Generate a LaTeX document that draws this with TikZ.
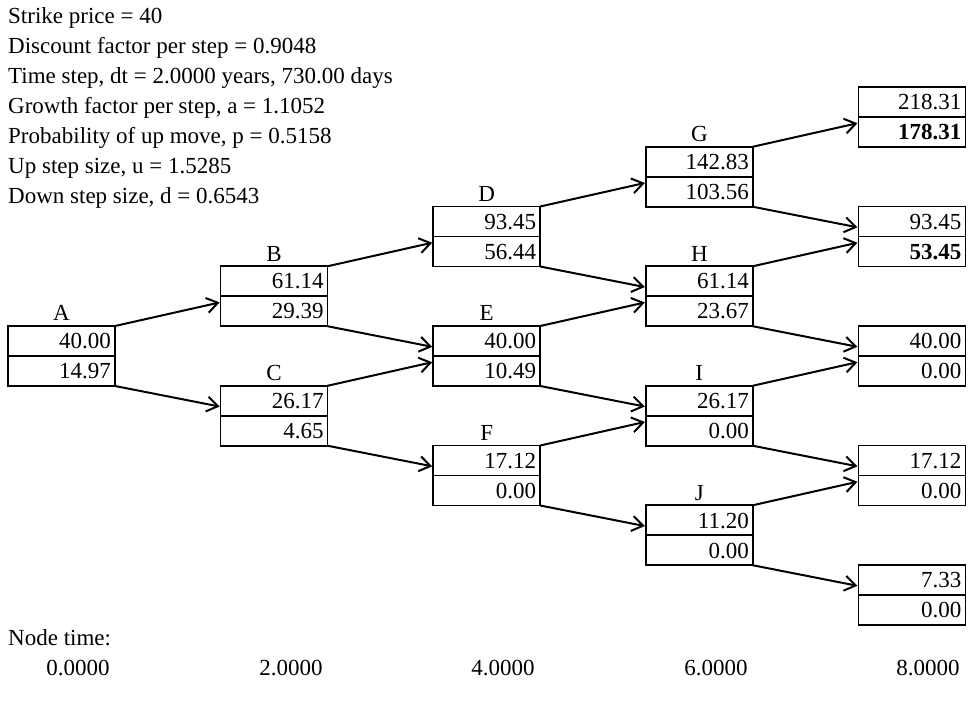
\documentclass[tikz,border=0pt]{standalone}
\usepackage{fontspec}
\setmainfont{Liberation Serif}
\usetikzlibrary{calc,arrows.meta}
\tikzset{
  cell/.style={draw, line width=1.6pt, rectangle, inner xsep=4pt, inner ysep=0pt, outer sep=0pt,
    text width=99pt, align=right, minimum height=30pt, text height=15.5pt, text depth=0pt},
  lbl/.style={inner sep=0pt, anchor=base},
  info/.style={inner sep=0pt, anchor=base west},
  arr/.style={line width=2pt, -{Straight Barb[length=11pt,width=15pt,line width=2pt]}, shorten >=1pt},
}
\newcommand\tbox[6]{%
  \node[cell, anchor=north west] (#1u) at (#2,#3) {#5};
  \node[cell, anchor=north] (#1l) at (#1u.south) {#6};
  \node[lbl] (#1t) at ($(#1u.north)+(0,-5)$) {#4};}
\newcommand\finalbox[5]{%
  \node[cell, anchor=north west] (#1u) at (#2,#3) {#4};
  \node[cell, anchor=north] (#1l) at (#1u.south) {#5};}
\newcommand\uparr[2]{\draw[arr] (#1u.north east) -- ($(#2u.south west)+(0,6)$);}
\newcommand\dnarr[2]{\draw[arr] (#1l.south east) -- ($(#2u.south west)+(0,-9)$);}
\begin{document}
\begin{tikzpicture}[x=1pt,y=-1pt,font=\fontsize{23}{30}\selectfont]
\useasboundingbox (0,0) rectangle (972,711);
% parameters
\node[info] (t1) at (8,24) {Strike price = 40};
\node[info] (t2) at (8,54) {Discount factor per step = 0.9048};
\node[info] (t3) at (8,84) {Time step, dt = 2.0000 years, 730.00 days};
\node[info] (t4) at (8,114) {Growth factor per step, a = 1.1052};
\node[info] (t5) at (8,144) {Probability of up move, p = 0.5158};
\node[info] (t6) at (8,174) {Up step size, u = 1.5285};
\node[info] (t7) at (8,204) {Down step size, d = 0.6543};
% tree
\tbox{A}{8}{326}{A}{40.00}{14.97}
\tbox{B}{220.6}{266.25}{B}{61.14}{29.39}
\tbox{C}{220.6}{385.75}{C}{26.17}{4.65}
\tbox{D}{433.2}{206.5}{D}{93.45}{56.44}
\tbox{E}{433.2}{326}{E}{40.00}{10.49}
\tbox{F}{433.2}{445.5}{F}{17.12}{0.00}
\tbox{G}{645.8}{146.75}{G}{142.83}{103.56}
\tbox{H}{645.8}{266.25}{H}{61.14}{23.67}
\tbox{I}{645.8}{385.75}{I}{26.17}{0.00}
\tbox{J}{645.8}{505.25}{J}{11.20}{0.00}
\finalbox{K}{858.4}{87}{218.31}{\textbf{178.31}}
\finalbox{L}{858.4}{206.5}{93.45}{\textbf{53.45}}
\finalbox{M}{858.4}{326}{40.00}{0.00}
\finalbox{N}{858.4}{445.5}{17.12}{0.00}
\finalbox{O}{858.4}{565}{7.33}{0.00}
% connectors
\uparr{A}{B} \dnarr{A}{C}
\uparr{B}{D} \dnarr{B}{E}
\uparr{C}{E} \dnarr{C}{F}
\uparr{D}{G} \dnarr{D}{H}
\uparr{E}{H} \dnarr{E}{I}
\uparr{F}{I} \dnarr{F}{J}
\uparr{G}{K} \dnarr{G}{L}
\uparr{H}{L} \dnarr{H}{M}
\uparr{I}{M} \dnarr{I}{N}
\uparr{J}{N} \dnarr{J}{O}
% node times
\node[info] (nt) at (8,645) {Node time:};
\node[lbl] (n0) at (78,675) {0.0000};
\node[lbl] (n1) at (291,675) {2.0000};
\node[lbl] (n2) at (503,675) {4.0000};
\node[lbl] (n3) at (716,675) {6.0000};
\node[lbl] (n4) at (928,675) {8.0000};
\end{tikzpicture}
\end{document}
